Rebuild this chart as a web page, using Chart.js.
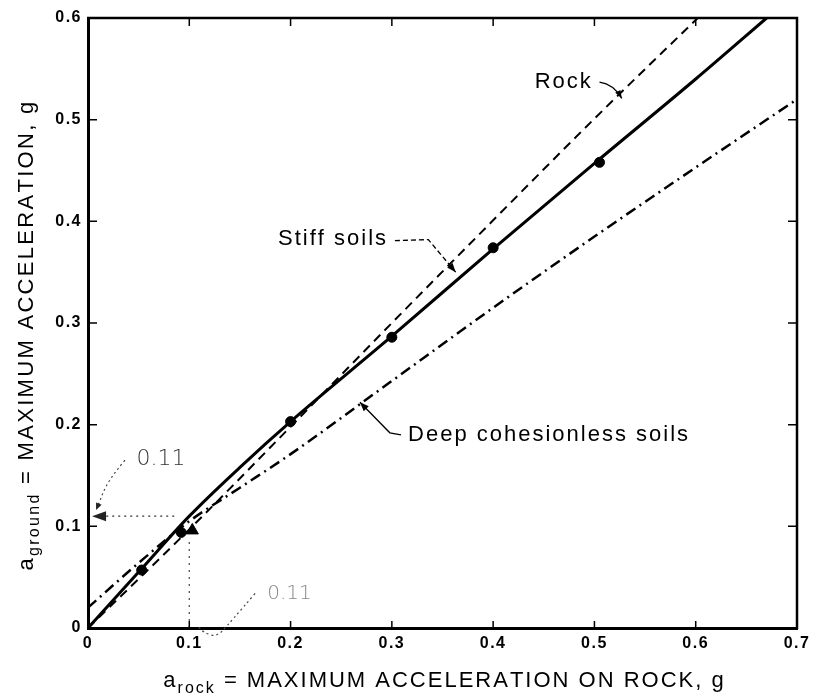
<!DOCTYPE html>
<html>
<head>
<meta charset="utf-8">
<script src="https://cdn.jsdelivr.net/npm/chart.js@4.4.1/dist/chart.umd.min.js"></script>
<style>
  html, body { margin: 0; padding: 0; background: #fff; }
  #wrap { width: 830px; height: 694px; position: relative; }
</style>
</head>
<body>
<div id="wrap"><canvas id="accelChart"></canvas></div>
<script>
// maximum ground acceleration vs. acceleration on rock (g)
const xTicks = [0, 0.1, 0.2, 0.3, 0.4, 0.5, 0.6, 0.7];
const yTicks = [0, 0.1, 0.2, 0.3, 0.4, 0.5, 0.6];

const rockX = [0, 0.1, 0.2, 0.3, 0.4, 0.5, 0.602];
const rockY = [0, 0.097, 0.198, 0.3, 0.401, 0.501, 0.6];

const stiffX = [0, 0.05, 0.1, 0.15, 0.2, 0.3, 0.4, 0.5, 0.6, 0.67];
const stiffY = [0, 0.055, 0.11, 0.158, 0.203, 0.287, 0.373, 0.457, 0.54, 0.6];

const deepX = [0, 0.05, 0.1, 0.15, 0.2, 0.3, 0.4, 0.5, 0.6, 0.7];
const deepY = [0.02, 0.064, 0.105, 0.138, 0.171, 0.243, 0.315, 0.385, 0.453, 0.52];

// recorded values on the stiff soils curve
const obsX = [0.053, 0.092, 0.2, 0.3, 0.4, 0.505];
const obsY = [0.057, 0.094, 0.203, 0.286, 0.374, 0.458];
const triX = [0.103];
const triY = [0.096];

// worked example: 0.1 g on rock gives 0.11 g at the surface
const readX = 0.1;
const readY = 0.11;

const FONT = '"Liberation Sans", Arial, Helvetica, sans-serif';
const HAND = '"DejaVu Sans", sans-serif';

const pts = (xs, ys) => xs.map((x, i) => ({ x: x, y: ys[i] }));

// text drawn one glyph at a time so the wide tracking of the labels is kept
function spaced(ctx, str, x, y, gap) {
  for (const ch of str) {
    ctx.fillText(ch, x, y);
    x += ctx.measureText(ch).width + gap;
  }
  return x;
}
function spacedWidth(ctx, str, gap) {
  let w = 0;
  for (const ch of str) w += ctx.measureText(ch).width + gap;
  return w;
}

function arrowHead(ctx, from, to, len, half) {
  const ang = Math.atan2(to[1] - from[1], to[0] - from[0]);
  ctx.beginPath();
  ctx.moveTo(to[0], to[1]);
  ctx.lineTo(to[0] - len * Math.cos(ang) + half * Math.sin(ang), to[1] - len * Math.sin(ang) - half * Math.cos(ang));
  ctx.lineTo(to[0] - len * Math.cos(ang) - half * Math.sin(ang), to[1] - len * Math.sin(ang) + half * Math.cos(ang));
  ctx.closePath();
  ctx.fill();
}

function smoothPath(ctx, p) {
  ctx.beginPath();
  ctx.moveTo(p[0][0], p[0][1]);
  for (let i = 1; i < p.length - 1; i++) {
    const mx = (p[i][0] + p[i + 1][0]) / 2, my = (p[i][1] + p[i + 1][1]) / 2;
    ctx.quadraticCurveTo(p[i][0], p[i][1], mx, my);
  }
  const last = p[p.length - 1];
  ctx.lineTo(last[0], last[1]);
  ctx.stroke();
}

// axis titles with subscripts
function subTitle(ctx, parts, gap) {
  let w = 0;
  parts.forEach(p => { ctx.font = p.font; w += spacedWidth(ctx, p.t, gap); });
  let x = -w / 2;
  parts.forEach(p => { ctx.font = p.font; x = spaced(ctx, p.t, x, p.dy, gap); });
}

const framePlugin = {
  id: 'frame',
  beforeDraw(chart) {
    chart.ctx.letterSpacing = '1.5px';
  },
  afterDraw(chart) {
    const { ctx, chartArea: a, scales } = chart;
    const sx = scales.x, sy = scales.y;
    const P = (x, y) => [sx.getPixelForValue(x), sy.getPixelForValue(y)];
    ctx.save();
    ctx.letterSpacing = '0px';
    ctx.strokeStyle = '#000';
    ctx.fillStyle = '#000';

    // top and right edges of the frame
    ctx.lineWidth = 2.5;
    ctx.beginPath();
    ctx.moveTo(a.left - 1, a.top);
    ctx.lineTo(a.right, a.top);
    ctx.lineTo(a.right, a.bottom + 1);
    ctx.stroke();

    // inward tick marks on all four sides
    ctx.lineWidth = 1.5;
    ctx.beginPath();
    xTicks.slice(1, -1).forEach(v => {
      const px = sx.getPixelForValue(v);
      ctx.moveTo(px, a.bottom); ctx.lineTo(px, a.bottom - 7);
      ctx.moveTo(px, a.top); ctx.lineTo(px, a.top + 8);
    });
    yTicks.slice(1, -1).forEach(v => {
      const py = sy.getPixelForValue(v);
      ctx.moveTo(a.left, py); ctx.lineTo(a.left + 9, py);
      ctx.moveTo(a.right, py); ctx.lineTo(a.right - 9, py);
    });
    ctx.stroke();

    // axis titles
    ctx.textBaseline = 'alphabetic';
    ctx.textAlign = 'left';
    ctx.save();
    ctx.translate((a.left + a.right) / 2 + 2, a.bottom + 59);
    subTitle(ctx, [
      { t: 'a', font: '22px ' + FONT, dy: 0 },
      { t: 'rock', font: '16px ' + FONT, dy: 6 },
      { t: ' = MAXIMUM ACCELERATION ON ROCK, g', font: '22px ' + FONT, dy: 0 }
    ], 2);
    ctx.restore();
    ctx.save();
    ctx.translate(33, (a.top + a.bottom) / 2 + 12);
    ctx.rotate(-Math.PI / 2);
    subTitle(ctx, [
      { t: 'a', font: '22px ' + FONT, dy: 0 },
      { t: 'ground', font: '16px ' + FONT, dy: 6 },
      { t: ' = MAXIMUM ACCELERATION, g', font: '22px ' + FONT, dy: 0 }
    ], 2.3);
    ctx.restore();

    // curve labels and their leaders
    ctx.font = '22px ' + FONT;
    ctx.textBaseline = 'middle';
    let p = P(0.441, 0.537);
    spaced(ctx, 'Rock', p[0], p[1], 2);
    p = P(0.1876, 0.3826);
    spaced(ctx, 'Stiff soils', p[0], p[1], 2);
    p = P(0.316, 0.19);
    spaced(ctx, 'Deep cohesionless soils', p[0], p[1], 2);

    ctx.lineWidth = 1.3;
    // Rock
    let a1 = P(0.505, 0.537), a2 = P(0.519, 0.535), tip = P(0.527, 0.521);
    ctx.beginPath();
    ctx.moveTo(a1[0], a1[1]); ctx.quadraticCurveTo(a2[0], a2[1], tip[0], tip[1]);
    ctx.stroke();
    arrowHead(ctx, a2, tip, 8, 3);
    // Stiff soils
    ctx.setLineDash([5, 3]);
    a1 = P(0.303, 0.381); a2 = P(0.336, 0.382); tip = P(0.363, 0.35);
    ctx.beginPath();
    ctx.moveTo(a1[0], a1[1]); ctx.lineTo(a2[0], a2[1]); ctx.lineTo(tip[0], tip[1]);
    ctx.stroke();
    ctx.setLineDash([]);
    arrowHead(ctx, a2, tip, 9, 3.5);
    // Deep cohesionless soils
    a1 = P(0.309, 0.19); a2 = P(0.298, 0.192); tip = P(0.2685, 0.222);
    ctx.beginPath();
    ctx.moveTo(a1[0], a1[1]); ctx.lineTo(a2[0], a2[1]); ctx.lineTo(tip[0], tip[1]);
    ctx.stroke();
    arrowHead(ctx, a2, tip, 9, 3.5);

    // hand-written reading of the example
    ctx.font = '300 22px ' + HAND;
    ctx.fillStyle = '#333';
    ctx.textBaseline = 'middle';
    p = P(0.048, 0.166);
    ctx.fillText('0.11', p[0], p[1]);
    ctx.fillStyle = '#888';
    ctx.font = '300 20px ' + HAND;
    p = P(0.177, 0.034);
    ctx.fillText('0.11', p[0], p[1]);

    ctx.strokeStyle = '#444';
    ctx.fillStyle = '#222';
    ctx.lineWidth = 1.2;
    ctx.setLineDash([2, 3]);
    smoothPath(ctx, [P(0.0365, 0.165), P(0.0197, 0.1456), P(0.009, 0.118)]);
    smoothPath(ctx, [P(0.165, 0.034), P(0.14, 0.005), P(0.127, -0.009), P(0.1135, -0.004), P(0.1076, 0.003)]);
    ctx.setLineDash([]);
    arrowHead(ctx, P(0.014, 0.13), P(0.008, 0.116), 7, 3);
    // arrow at the ground-acceleration axis
    arrowHead(ctx, P(0.03, readY), P(0.004, readY), 14, 5);

    ctx.restore();
  }
};

const tickFont = { family: FONT, size: 16, weight: 'bold' };

new Chart(document.getElementById('accelChart'), {
  type: 'scatter',
  data: {
    datasets: [
      {
        label: 'Rock',
        data: pts(rockX, rockY),
        showLine: true,
        borderColor: '#000',
        borderWidth: 2,
        borderDash: [9, 6],
        pointRadius: 0,
        cubicInterpolationMode: 'monotone'
      },
      {
        label: 'Stiff soils',
        data: pts(stiffX, stiffY),
        showLine: true,
        borderColor: '#000',
        borderWidth: 3,
        pointRadius: 0,
        cubicInterpolationMode: 'monotone'
      },
      {
        label: 'Deep cohesionless soils',
        data: pts(deepX, deepY),
        showLine: true,
        borderColor: '#000',
        borderWidth: 2.5,
        borderDash: [11, 5, 2, 5],
        pointRadius: 0,
        cubicInterpolationMode: 'monotone'
      },
      {
        label: 'Records',
        data: pts(obsX, obsY),
        showLine: false,
        pointRadius: 5,
        pointBackgroundColor: '#000',
        pointBorderColor: '#000'
      },
      {
        label: 'Example',
        data: pts(triX, triY),
        showLine: false,
        pointStyle: 'triangle',
        pointRadius: 7,
        pointBackgroundColor: '#000',
        pointBorderColor: '#000'
      },
      {
        label: 'ground reading',
        data: [{ x: 0.018, y: readY }, { x: 0.086, y: readY }],
        showLine: true,
        borderColor: '#333',
        borderWidth: 1.3,
        borderDash: [2, 4],
        pointRadius: 0
      },
      {
        label: 'rock reading',
        data: [{ x: readX, y: 0 }, { x: readX, y: 0.088 }],
        showLine: true,
        borderColor: '#555',
        borderWidth: 1.3,
        borderDash: [2, 5],
        pointRadius: 0
      }
    ]
  },
  options: {
    responsive: true,
    maintainAspectRatio: false,
    animation: false,
    layout: { padding: { top: 18, right: 33, left: 0, bottom: 0 } },
    plugins: {
      legend: { display: false },
      tooltip: { enabled: false }
    },
    scales: {
      x: {
        type: 'linear',
        min: 0,
        max: 0.7,
        afterFit: s => { s.height = 66; },
        afterBuildTicks: s => { s.ticks = xTicks.map(v => ({ value: v })); },
        grid: { drawOnChartArea: false, drawTicks: false },
        border: { display: true, color: '#000', width: 3 },
        ticks: {
          padding: 6,
          color: '#000',
          font: tickFont,
          callback: v => (v === 0 ? '0' : v.toFixed(1))
        }
      },
      y: {
        type: 'linear',
        min: 0,
        max: 0.6,
        afterFit: s => { s.width = 88; },
        afterBuildTicks: s => { s.ticks = yTicks.map(v => ({ value: v })); },
        grid: { drawOnChartArea: false, drawTicks: false },
        border: { display: true, color: '#000', width: 3 },
        ticks: {
          padding: 6,
          color: '#000',
          font: tickFont,
          callback: v => (v === 0 ? '0' : v.toFixed(1))
        }
      }
    }
  },
  plugins: [framePlugin]
});
</script>
</body>
</html>
